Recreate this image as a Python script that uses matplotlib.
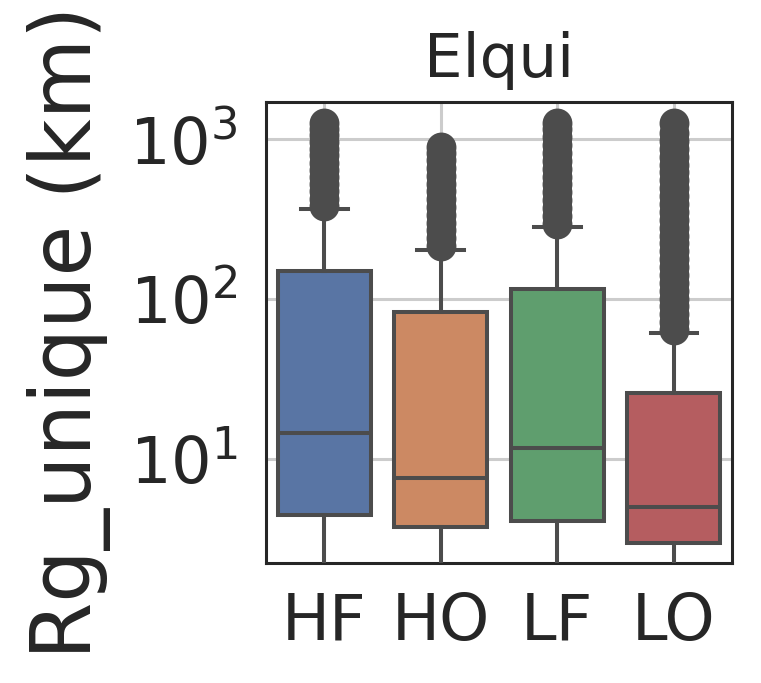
import matplotlib
matplotlib.use("Agg")
import matplotlib.pyplot as plt

categories = ["HF", "HO", "LF", "LO"]
q1 = [4.47, 3.76, 4.1, 3.0]
med = [14.5, 7.6, 11.7, 5.0]
q3 = [150, 83, 115, 26]
whis_hi = [365, 202, 282, 61]
whis_lo = [0.1, 0.1, 0.1, 0.1]
fliers = [
    [380, 420, 470, 520, 580, 640, 710, 790, 870, 960, 1050, 1150, 1260],
    [215, 240, 270, 300, 335, 375, 420, 470, 525, 590, 660, 740, 820, 890],
    [295, 330, 370, 415, 465, 520, 580, 650, 730, 820, 920, 1030, 1150, 1260],
    [64, 72, 80, 90, 100, 112, 126, 141, 158, 177, 198, 222, 249, 279, 312,
     350, 392, 439, 492, 551, 617, 691, 774, 867, 971, 1090, 1260],
]
colors = ["#5975a4", "#cc8963", "#5f9e6e", "#b55d60"]
title = "Elqui"
ylabel = "Rg_unique (km)"

plt.rcParams['font.family'] = ['DejaVu Sans']
fig = plt.figure(figsize=(7.61, 6.83), dpi=100)
ax = fig.add_axes([0.3495, 0.1757, 0.962 - 0.3495, 0.8507 - 0.1757])

stats = []
for i, c in enumerate(categories):
    stats.append(dict(label=c, q1=q1[i], med=med[i], q3=q3[i],
                      whislo=whis_lo[i], whishi=whis_hi[i], fliers=fliers[i]))

line_c = "#4c4c4c"
lw = 2.9
bp = ax.bxp(stats, positions=range(len(categories)), widths=0.8,
            patch_artist=True, showfliers=True,
            boxprops=dict(edgecolor=line_c, linewidth=lw),
            medianprops=dict(color=line_c, linewidth=lw),
            whiskerprops=dict(color=line_c, linewidth=lw),
            capprops=dict(color=line_c, linewidth=lw),
            flierprops=dict(marker='o', markersize=19, markerfacecolor=line_c,
                            markeredgecolor=line_c, markeredgewidth=2.5),
            capwidths=0.4, zorder=3)
for patch, col in zip(bp['boxes'], colors):
    patch.set_facecolor(col)

ax.set_yscale('log')
ax.set_ylim(2.24, 1700)
ax.set_xlim(-0.5, 3.5)
ax.set_xticks(range(len(categories)))
ax.set_xticklabels(categories)
ax.yaxis.set_minor_locator(matplotlib.ticker.NullLocator())

ax.grid(True, which='major', color='#cccccc', linewidth=2.2, zorder=0)
ax.set_axisbelow(True)
for s in ax.spines.values():
    s.set_color('#262626')
    s.set_linewidth(2.2)
ax.tick_params(axis='both', which='both', length=0, labelsize=46,
               labelcolor='#262626', pad=20)
ax.set_title(title, fontsize=44, color='#262626', pad=18)
ax.set_ylabel(ylabel, fontsize=59.5, color='#262626', labelpad=13)

fig.savefig("out.png", dpi=100)
